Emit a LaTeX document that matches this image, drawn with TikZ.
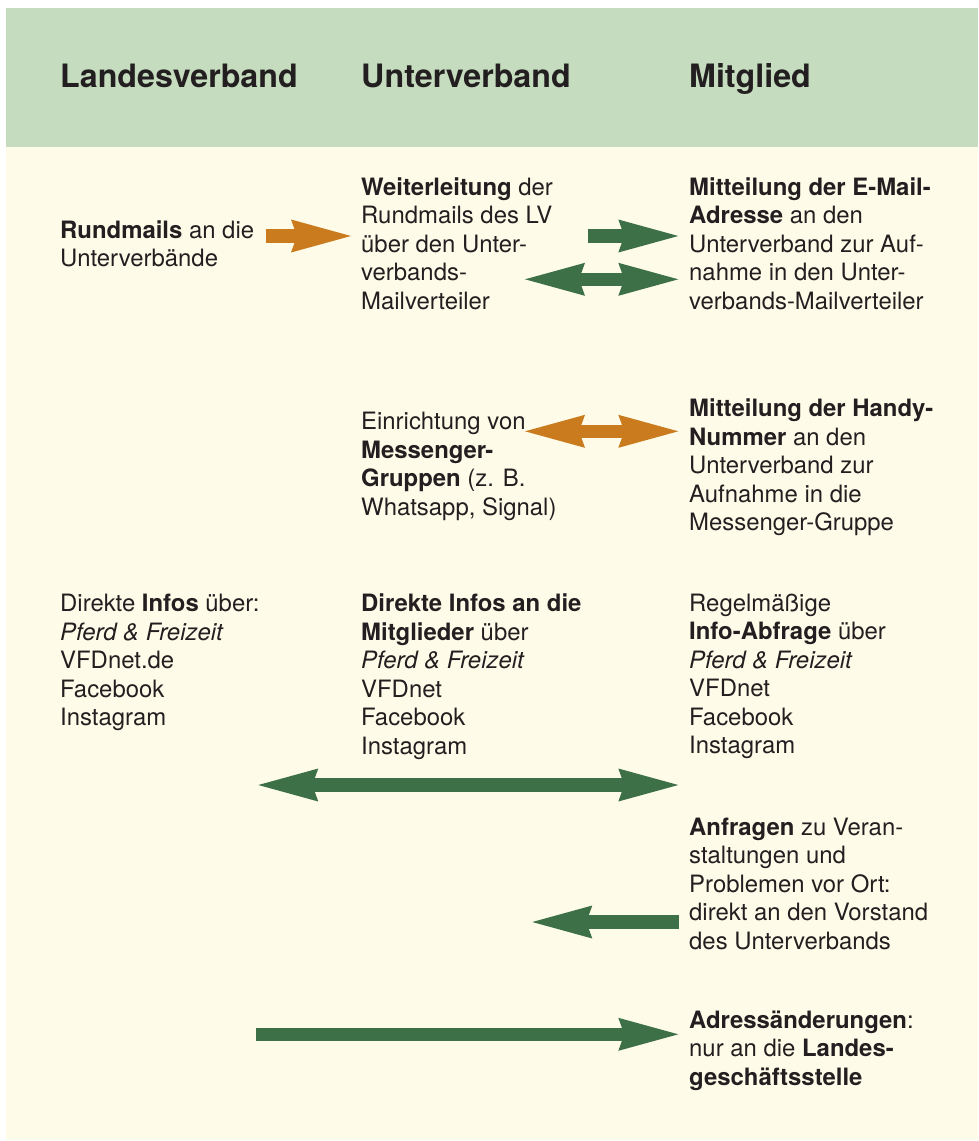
\documentclass[tikz,border=0pt]{standalone}
\usepackage{fontspec}
\setmainfont{TeX Gyre Heros}
\usetikzlibrary{arrows.meta}

\definecolor{headgreen}{HTML}{C6DCBF}
\definecolor{bodycream}{HTML}{FEFBE9}
\definecolor{arrowgreen}{HTML}{3D7047}
\definecolor{arroworange}{HTML}{C97B1D}
\definecolor{ink}{HTML}{231F20}

% one text cell: lines broken by hand, baseline = first line
\newcommand\cellbox[1]{\parbox[t]{400pt}{\raggedright #1}}

\begin{document}
\begin{tikzpicture}[x=1pt,y=-1pt,
  heading/.style={anchor=base west, inner sep=0pt, text=ink,
    font=\fontsize{32.2}{36}\selectfont\bfseries},
  entry/.style={anchor=base west, inner sep=0pt, text=ink,
    font=\fontsize{23.9}{28.5}\selectfont},
  band/.style={line width=13.3pt, line cap=butt,
    >={Stealth[length=60pt,width=33pt,inset=6pt,line width=0pt]}},
  greenband/.style={band, draw=arrowgreen, fill=arrowgreen, color=arrowgreen},
  orangeband/.style={band, draw=arroworange, fill=arroworange, color=arroworange}
]
  % page, header strip and body
  \useasboundingbox (0,0) rectangle (978,1141);
  \fill[white] (0,0) rectangle (978,1141);
  \fill[bodycream] (6,147) rectangle (978,1140);
  \fill[headgreen] (6,8) rectangle (978,147);

  % column headings
  \node[heading] (hLV) at (60,87.3) {Landesverband};
  \node[heading] (hUV) at (361,87.3) {Unterverband};
  \node[heading] (hMG) at (689,87.3) {Mitglied};

  % row 1: circular mails
  \node[entry] (lv1) at (60,238) {\cellbox{\textbf{Rundmails} an die\\Unterverbände}};
  \node[entry] (uv1) at (361,195) {\cellbox{\textbf{Weiterleitung} der\\Rundmails des LV\\über den Unter-\\verbands-\\Mailverteiler}};
  \node[entry] (mg1) at (689,195) {\cellbox{\textbf{Mitteilung der E-Mail-}\\\textbf{Adresse} an den\\Unterverband zur Auf-\\nahme in den Unter-\\verbands-Mailverteiler}};

  % row 2: messenger groups
  \node[entry] (uv2) at (361,429.5) {\cellbox{Einrichtung von\\\textbf{Messenger-}\\\textbf{Gruppen} (z. B.\\Whatsapp, Signal)}};
  \node[entry] (mg2) at (689,416.7) {\cellbox{\textbf{Mitteilung der Handy-}\\\textbf{Nummer} an den\\Unterverband zur\\Aufnahme in die\\Messenger-Gruppe}};

  % row 3: direct information
  \node[entry] (lv3) at (60,611.5) {\cellbox{Direkte \textbf{Infos} über:\\\textit{Pferd \& Freizeit}\\VFDnet.de\\Facebook\\Instagram}};
  \node[entry] (uv3) at (361,611.5) {\cellbox{\textbf{Direkte Infos an die}\\\textbf{Mitglieder} über\\\textit{Pferd \& Freizeit}\\VFDnet\\Facebook\\Instagram}};
  \node[entry] (mg3) at (689,611) {\cellbox{Regelmäßige\\\textbf{Info-Abfrage} über\\\textit{Pferd \& Freizeit}\\VFDnet\\Facebook\\Instagram}};

  % row 4 and 5: enquiries and address changes
  \node[entry] (mg4) at (689,835) {\cellbox{\textbf{Anfragen} zu Veran-\\staltungen und\\Problemen vor Ort:\\direkt an den Vorstand\\des Unterverbands}};
  \node[entry] (mg5) at (689,1028) {\cellbox{\textbf{Adressänderungen}:\\nur an die \textbf{Landes-}\\\textbf{geschäftsstelle}}};

  % arrow end points
  \coordinate (a1s) at (266,236);   \coordinate (a1e) at (351,236);
  \coordinate (a2s) at (588,236);   \coordinate (a2e) at (678.3,236);
  \coordinate (a3s) at (525,279.3); \coordinate (a3e) at (678.3,279.3);
  \coordinate (a4s) at (525,431.3); \coordinate (a4e) at (678.3,431.3);
  \coordinate (a5s) at (258.3,785); \coordinate (a5e) at (678.3,785);
  \coordinate (a6s) at (679.3,922); \coordinate (a6e) at (532.3,922);
  \coordinate (a7s) at (255.7,1034.3); \coordinate (a7e) at (678.3,1034.3);

  % block arrows
  \draw[orangeband, ->]  (a1s) -- (a1e);
  \draw[greenband, ->]   (a2s) -- (a2e);
  \draw[greenband, <->]  (a3s) -- (a3e);
  \draw[orangeband, <->] (a4s) -- (a4e);
  \draw[greenband, <->]  (a5s) -- (a5e);
  \draw[greenband, ->]   (a6s) -- (a6e);
  \draw[greenband, ->]   (a7s) -- (a7e);
\end{tikzpicture}
\end{document}
